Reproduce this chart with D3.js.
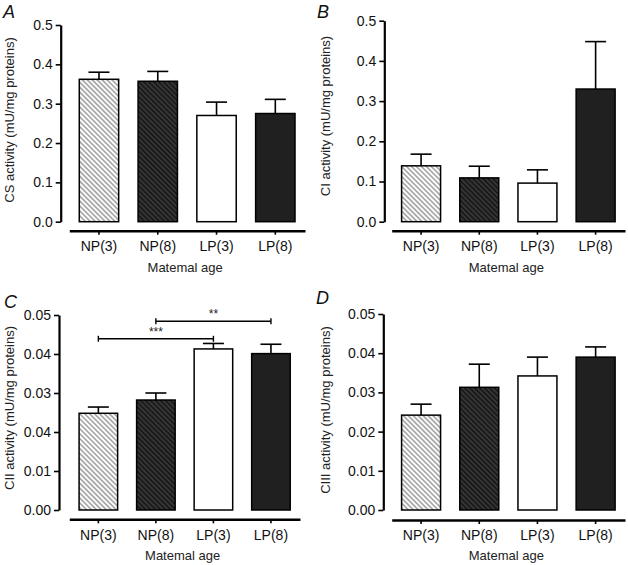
<!DOCTYPE html>
<html><head><meta charset="utf-8">
<script src="https://cdn.jsdelivr.net/npm/d3@7"></script>
<style>
body{margin:0;background:#fff;}
svg{display:block;font-family:"Liberation Sans",Arial,sans-serif;}
</style></head>
<body>
<svg id="chart" width="628" height="565"></svg>
<script>
const categories = ["NP(3)","NP(8)","LP(3)","LP(8)"];
const csMean = [0.362, 0.357, 0.270, 0.275];
const csErr = [0.018, 0.025, 0.034, 0.036];
const ciMean = [0.139, 0.109, 0.096, 0.330];
const ciErr = [0.029, 0.029, 0.033, 0.118];
const ciiMean = [0.0248, 0.0282, 0.0413, 0.0401];
const ciiErr = [0.0016, 0.0018, 0.0014, 0.0024];
const ciiiMean = [0.0242, 0.0313, 0.0342, 0.0390];
const ciiiErr = [0.0028, 0.0059, 0.0048, 0.0026];
const abTickValues = [0, 0.1, 0.2, 0.3, 0.4, 0.5];
const abTickLabels = ["0.0","0.1","0.2","0.3","0.4","0.5"];
const cdTickValues = [0, 0.01, 0.02, 0.03, 0.04, 0.05];
const cTickLabels = ["0.00","0.01","0.04","0.03","0.04","0.05"];
const dTickLabels = ["0.00","0.01","0.02","0.03","0.04","0.05"];
const sigFrom = [0, 1];
const sigTo = [2, 3];
const sigLevel = [0.0439, 0.0484];
const sigLabel = ["***", "**"];
const xTitle = "Matemal age";

const svg = d3.select("#chart");
const defs = svg.append("defs");
function hatch(id, bg, fg, w, gap){
  const p = defs.append("pattern").attr("id", id).attr("patternUnits","userSpaceOnUse")
    .attr("width", gap).attr("height", gap).attr("patternTransform","rotate(-45)");
  p.append("rect").attr("width", gap).attr("height", gap).attr("fill", bg);
  p.append("line").attr("x1", gap/2).attr("x2", gap/2).attr("y1", 0).attr("y2", gap)
    .attr("stroke", fg).attr("stroke-width", w);
}
hatch("hLight", "#fff", "#777", 1.1, 3.5);
hatch("hDark", "#363636", "#111", 1.4, 3.5);
const fills = ["url(#hLight)", "url(#hDark)", "#fff", "#202020"];

const panels = [
  {label:"A", mean:csMean, err:csErr, tv:abTickValues, tl:abTickLabels, max:0.5,
   yx:60.7, y0:221.7, y1:25, xaY:230.7, xr:[69.3,305], title:"CS activity (mU/mg proteins)",
   tX:14, tY:120, lx:3, ly:18, xtY:272},
  {label:"B", mean:ciMean, err:ciErr, tv:abTickValues, tl:abTickLabels, max:0.5,
   yx:384.3, y0:221.7, y1:20.7, xaY:230.7, xr:[391.7,625], title:"CI activity (mU/mg proteins)",
   tX:330, tY:116, lx:317, ly:18, xtY:272},
  {label:"C", mean:ciiMean, err:ciiErr, tv:cdTickValues, tl:cTickLabels, max:0.05,
   yx:59, y0:510, y1:315, xaY:519.3, xr:[69.3,300], title:"CII activity (mU/mg proteins)",
   tX:14, tY:408, lx:4, ly:308, xtY:560, sig:true},
  {label:"D", mean:ciiiMean, err:ciiiErr, tv:cdTickValues, tl:dTickLabels, max:0.05,
   yx:383.3, y0:510, y1:314, xaY:520, xr:[391.7,625], title:"CIII activity (mU/mg proteins)",
   tX:330, tY:410, lx:316, ly:304, xtY:560}
];

panels.forEach(p => {
  const g = svg.append("g");
  const y = d3.scaleLinear().domain([0, p.max]).range([p.y0, p.y1]);
  const x = d3.scaleBand().domain(categories).range(p.xr).paddingInner(0.33).paddingOuter(0.17);

  g.selectAll("rect.bar").data(categories).enter().append("rect")
    .attr("x", d => x(d)).attr("width", x.bandwidth())
    .attr("y", (d,i) => y(p.mean[i])).attr("height", (d,i) => y(0) - y(p.mean[i]))
    .attr("fill", (d,i) => fills[i]).attr("stroke", "#000").attr("stroke-width", 1.5);
  const cap = 10.5;
  categories.forEach((c,i) => {
    const cx = x(c) + x.bandwidth()/2;
    g.append("line").attr("x1", cx).attr("x2", cx)
      .attr("y1", y(p.mean[i])).attr("y2", y(p.mean[i] + p.err[i]))
      .attr("stroke", "#000").attr("stroke-width", 1.6);
    g.append("line").attr("x1", cx - cap).attr("x2", cx + cap)
      .attr("y1", y(p.mean[i] + p.err[i])).attr("y2", y(p.mean[i] + p.err[i]))
      .attr("stroke", "#000").attr("stroke-width", 1.6);
  });

  const ya = g.append("g").attr("transform", `translate(${p.yx},0)`)
    .call(d3.axisLeft(y).tickValues(p.tv).tickFormat((d,i) => p.tl[i]).tickSize(5).tickSizeOuter(0).tickPadding(3));
  ya.select(".domain").attr("stroke-width", 2.2);
  ya.selectAll(".tick line").attr("stroke-width", 1.6);
  ya.selectAll("text").attr("font-size", 14).attr("fill", "#111").attr("font-family", null);

  const xa = g.append("g").attr("transform", `translate(0,${p.xaY})`)
    .call(d3.axisBottom(x).tickSize(4).tickSizeOuter(0).tickPadding(6.5));
  xa.select(".domain").attr("stroke-width", 2.4);
  xa.selectAll(".tick line").attr("stroke-width", 1.6);
  xa.selectAll("text").attr("font-size", 14).attr("fill", "#111").attr("font-family", null);

  g.append("text").attr("x", (p.xr[0] + p.xr[1]) / 2 - 2).attr("y", p.xtY)
    .attr("text-anchor", "middle").attr("font-size", 13).attr("fill", "#222").text(xTitle);
  g.append("text").attr("transform", `translate(${p.tX},${p.tY}) rotate(-90)`)
    .attr("text-anchor", "middle").attr("font-size", 13).attr("fill", "#222").text(p.title);
  g.append("text").attr("x", p.lx).attr("y", p.ly).attr("font-size", 18)
    .attr("font-style", "italic").attr("fill", "#111").text(p.label);

  if (p.sig) {
    sigFrom.forEach((f, k) => {
      const x1 = x(categories[f]) + x.bandwidth()/2;
      const x2 = x(categories[sigTo[k]]) + x.bandwidth()/2;
      const yy = y(sigLevel[k]);
      g.append("line").attr("x1", x1).attr("x2", x2).attr("y1", yy).attr("y2", yy)
        .attr("stroke", "#000").attr("stroke-width", 1.4);
      [x1, x2].forEach(xx => g.append("line").attr("x1", xx).attr("x2", xx)
        .attr("y1", yy - 3).attr("y2", yy + 3).attr("stroke", "#000").attr("stroke-width", 1.4));
      g.append("text").attr("x", (x1 + x2) / 2).attr("y", yy - 3)
        .attr("text-anchor", "middle").attr("font-size", 12).attr("fill", "#222").text(sigLabel[k]);
    });
  }
});
</script>
</body></html>
